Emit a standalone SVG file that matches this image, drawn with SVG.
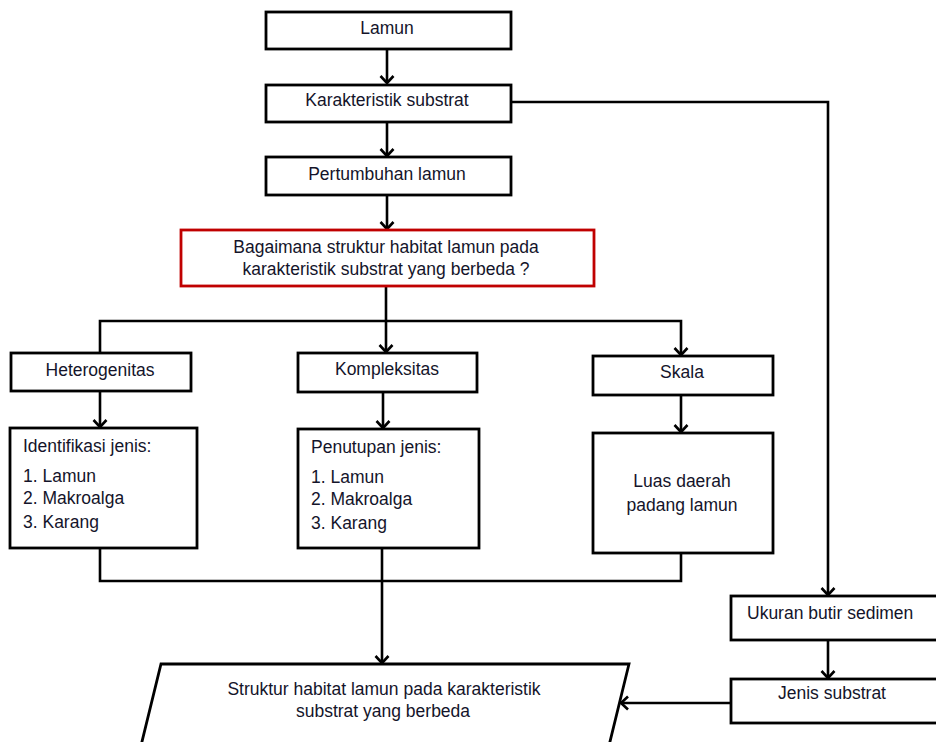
<svg xmlns="http://www.w3.org/2000/svg" width="936" height="742" viewBox="0 0 936 742">
<defs>
<marker id="arr" viewBox="-10 -8 12 16" refX="0" refY="0" markerWidth="12" markerHeight="16" markerUnits="userSpaceOnUse" orient="auto">
<path d="M-7,-6.5 L0,0 L-7,6.5" fill="none" stroke="#000" stroke-width="2.6" stroke-linejoin="miter"/>
</marker>
</defs>
<style>
.box{fill:#fff;stroke:#000;stroke-width:2.8}
.red{fill:#fff;stroke:#c00000;stroke-width:2.8}
.t{font-family:"Liberation Sans",Arial,sans-serif;font-size:17.5px;fill:#14142a}
.c{text-anchor:middle}
.ln{fill:none;stroke:#000;stroke-width:2.6}
</style>
<rect width="936" height="742" fill="#fff"/>
<g id="connectors">
<line class="ln" x1="387" y1="49" x2="387" y2="83" marker-end="url(#arr)"/>
<line class="ln" x1="387" y1="122" x2="387" y2="156" marker-end="url(#arr)"/>
<line class="ln" x1="387" y1="195" x2="387" y2="229" marker-end="url(#arr)"/>
<line class="ln" x1="386" y1="286" x2="386" y2="352" marker-end="url(#arr)"/>
<polyline class="ln" points="100,352 100,321 681,321 681,355" marker-end="url(#arr)"/>
<line class="ln" x1="100" y1="391" x2="100" y2="427" marker-end="url(#arr)"/>
<line class="ln" x1="383" y1="392" x2="383" y2="428" marker-end="url(#arr)"/>
<line class="ln" x1="681" y1="395" x2="681" y2="432" marker-end="url(#arr)"/>
<polyline class="ln" points="100,548 100,581 681,581 681,553"/>
<line class="ln" x1="382" y1="548" x2="382" y2="663" marker-end="url(#arr)"/>
<polyline class="ln" points="512,102 828,102 828,595" marker-end="url(#arr)"/>
<line class="ln" x1="828" y1="640" x2="828" y2="678" marker-end="url(#arr)"/>
<line class="ln" x1="731" y1="703" x2="621" y2="703" marker-end="url(#arr)"/>
</g>
<g id="n-lamun">
<rect class="box" x="266" y="12" width="245" height="37"/>
<text class="t c" x="387" y="34">Lamun</text>
</g>
<g id="n-karakteristik">
<rect class="box" x="266" y="85" width="245" height="37"/>
<text class="t c" x="387" y="106">Karakteristik substrat</text>
</g>
<g id="n-pertumbuhan">
<rect class="box" x="266" y="157" width="245" height="38"/>
<text class="t c" x="387" y="180">Pertumbuhan lamun</text>
</g>
<g id="n-pertanyaan">
<rect class="red" x="181" y="230" width="413" height="56"/>
<text class="t c" x="386" y="253">Bagaimana struktur habitat lamun pada</text>
<text class="t c" x="386" y="275">karakteristik substrat yang berbeda ?</text>
</g>
<g id="n-heterogenitas">
<rect class="box" x="11" y="353" width="180" height="38"/>
<text class="t c" x="100" y="376">Heterogenitas</text>
</g>
<g id="n-kompleksitas">
<rect class="box" x="298" y="353" width="179" height="39"/>
<text class="t c" x="387" y="375">Kompleksitas</text>
</g>
<g id="n-skala">
<rect class="box" x="593" y="356" width="180" height="39"/>
<text class="t c" x="682" y="378">Skala</text>
</g>
<g id="n-identifikasi">
<rect class="box" x="10" y="428" width="187" height="120"/>
<text class="t" x="23" y="452">Identifikasi jenis:</text>
<text class="t" x="23" y="482">1. Lamun</text>
<text class="t" x="23" y="504">2. Makroalga</text>
<text class="t" x="23" y="528">3. Karang</text>
</g>
<g id="n-penutupan">
<rect class="box" x="298" y="429" width="181" height="119"/>
<text class="t" x="311" y="453">Penutupan jenis:</text>
<text class="t" x="311" y="483">1. Lamun</text>
<text class="t" x="311" y="505">2. Makroalga</text>
<text class="t" x="311" y="529">3. Karang</text>
</g>
<g id="n-luas">
<rect class="box" x="593" y="433" width="180" height="120"/>
<text class="t c" x="682" y="487">Luas daerah</text>
<text class="t c" x="682" y="511">padang lamun</text>
</g>
<g id="n-ukuran">
<rect class="box" x="731" y="596" width="215" height="44"/>
<text class="t" x="747" y="619">Ukuran butir sedimen</text>
</g>
<g id="n-jenis">
<rect class="box" x="731" y="679" width="215" height="44"/>
<text class="t c" x="832" y="699">Jenis substrat</text>
</g>
<g id="n-struktur">
<polygon class="box" points="161,664 629,664 605,762 137,762"/>
<text class="t c" x="384" y="695">Struktur habitat lamun pada karakteristik</text>
<text class="t c" x="383" y="717">substrat yang berbeda</text>
</g>
</svg>
